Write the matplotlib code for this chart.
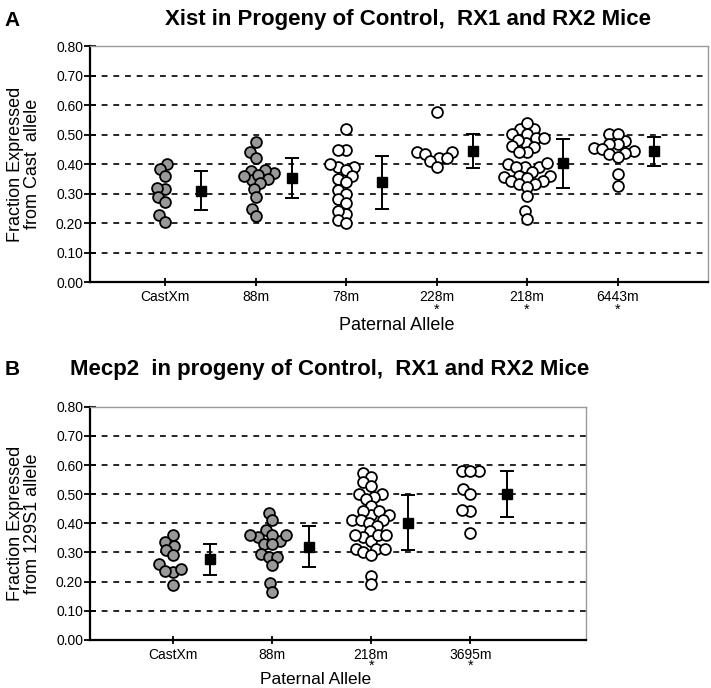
import matplotlib
matplotlib.use('Agg')
import matplotlib.pyplot as plt
import numpy as np

plt.rcParams['font.family'] = ['Liberation Sans', 'DejaVu Sans']

# ---- panel A : Xist ----
a_groups = ['CastXm', '88m', '78m', '228m', '218m', '6443m']
a_star = [False, False, False, True, True, True]
a_filled = [True, True, False, False, False, False]
a_values = [
    [0.400, 0.383, 0.359, 0.315, 0.320, 0.289, 0.272, 0.226, 0.205],
    [0.476, 0.442, 0.419, 0.378, 0.368, 0.380, 0.349, 0.345, 0.363, 0.359,
     0.334, 0.317, 0.289, 0.249, 0.223],
    [0.519, 0.448, 0.448, 0.390, 0.390, 0.400, 0.380, 0.360, 0.350, 0.340,
     0.311, 0.298, 0.281, 0.269, 0.230, 0.241, 0.211, 0.200],
    [0.578, 0.419, 0.442, 0.442, 0.434, 0.419, 0.410, 0.391],
    [0.518, 0.518, 0.540, 0.502, 0.502, 0.472, 0.487, 0.487, 0.482, 0.459,
     0.461, 0.442, 0.442, 0.391, 0.389, 0.400, 0.391, 0.402, 0.374, 0.360,
     0.359, 0.351, 0.357, 0.343, 0.342, 0.331, 0.331, 0.321, 0.291, 0.240,
     0.212],
    [0.479, 0.502, 0.502, 0.468, 0.468, 0.453, 0.450, 0.443, 0.436, 0.434,
     0.425, 0.366, 0.326],
]
a_mean = [0.309, 0.353, 0.338, 0.443, 0.402, 0.443]
a_sd = [0.066, 0.068, 0.090, 0.058, 0.083, 0.049]

# ---- panel B : Mecp2 ----
b_groups = ['CastXm', '88m', '218m', '3695m']
b_star = [False, False, True, True]
b_filled = [True, True, False, False]
b_values = [
    [0.359, 0.336, 0.322, 0.307, 0.290, 0.259, 0.234, 0.244, 0.238, 0.190],
    [0.437, 0.410, 0.378, 0.353, 0.341, 0.359, 0.359, 0.359, 0.330, 0.328,
     0.295, 0.284, 0.284, 0.257, 0.194, 0.166],
    [0.571, 0.560, 0.540, 0.529, 0.499, 0.499, 0.491, 0.482, 0.460, 0.430,
     0.441, 0.441, 0.430, 0.410, 0.410, 0.410, 0.402, 0.391, 0.372, 0.353,
     0.361, 0.341, 0.359, 0.361, 0.313, 0.313, 0.313, 0.301, 0.290, 0.221,
     0.191],
    [0.580, 0.580, 0.580, 0.518, 0.500, 0.443, 0.447, 0.368],
]
b_mean = [0.277, 0.320, 0.402, 0.501]
b_sd = [0.053, 0.071, 0.095, 0.079]

yticks = np.arange(0, 0.81, 0.1)


def swarm(vals, d, sx, sy):
    # simple beeswarm in pixel units, returns x offsets in data units
    vals = np.asarray(vals)
    order = np.argsort(vals)
    placed = []
    xs = np.zeros(len(vals))
    for k in order:
        y = vals[k] * sy
        near = [(px, py) for px, py in placed if abs(py - y) < d]
        cands = [0.0]
        for px, py in near:
            dx = np.sqrt(d * d - (py - y) ** 2)
            cands += [px + dx, px - dx]
        cands.sort(key=lambda c: (abs(c), c))
        for c in cands:
            if all((c - px) ** 2 + (y - py) ** 2 >= d * d - 1e-6 for px, py in near):
                xs[k] = c
                placed.append((c, y))
                break
    return xs / sx


def panel(ax, groups, values, means, sds, filled, stars, xlim, ylabel, dx_mean, star_off):
    ax.set_xlim(*xlim)
    ax.set_ylim(0, 0.8)
    fig.canvas.draw()
    bb = ax.get_window_extent()
    sx = bb.width / (xlim[1] - xlim[0])
    sy = bb.height / 0.8
    for y in yticks[1:-1]:
        ax.axhline(y, color='black', lw=1.2, ls=(0, (3.5, 3.5)), zorder=1)
    for i, vals in enumerate(values):
        off = swarm(vals, 8.5, sx, sy)
        ax.plot(i + off, vals, 'o', ms=7.8, mec='black', mew=1.3,
                mfc='#999999' if filled[i] else 'white', zorder=3, clip_on=False)
        ax.errorbar(i + dx_mean, means[i], yerr=sds[i], fmt='s', ms=6.5,
                    color='black', ecolor='black', elinewidth=1.4,
                    capsize=5, capthick=1.4, zorder=4)
        if stars[i]:
            ax.annotate('*', xy=(i, 0), xycoords=('data', 'axes fraction'),
                        xytext=(0, star_off), textcoords='offset pixels',
                        ha='center', va='top', fontsize=10.5)
    ax.set_xticks(range(len(groups)))
    ax.set_xticklabels(groups, fontsize=10)
    ax.set_yticks(yticks)
    ax.set_yticklabels(['%.2f' % v for v in yticks], fontsize=10)
    ax.tick_params(axis='y', direction='inout', length=8, width=1.3, pad=1)
    ax.tick_params(axis='x', direction='inout', length=6, width=1.3, pad=3)
    for s in ['left', 'bottom']:
        ax.spines[s].set_linewidth(1.6)
    for s in ['top', 'right']:
        ax.spines[s].set_color('#999999')
        ax.spines[s].set_linewidth(1.0)
    ax.set_ylabel(ylabel, fontsize=13, linespacing=1.0)
    ax.yaxis.set_label_coords(-(90 - 41) / bb.width, 0.5)


fig = plt.figure(figsize=(7.11, 6.88), dpi=100)
ax1 = fig.add_axes([0.1266, 0.5901, 0.8692, 0.3430])
ax2 = fig.add_axes([0.1266, 0.0698, 0.6976, 0.3391])

panel(ax1, a_groups, a_values, a_mean, a_sd, a_filled, a_star,
      (-0.83, 6.0), 'Fraction Expressed\nfrom Cast  allele', 0.40, -21)
panel(ax2, b_groups, b_values, b_mean, b_sd, b_filled, b_star,
      (-0.84, 4.17), 'Fraction Expressed\nfrom 129S1 allele', 0.37, -19)

fig.text(397 / 711, 1 - 326 / 688, 'Paternal Allele', ha='center', va='center', fontsize=13)
fig.text(316 / 711, 1 - 679 / 688, 'Paternal Allele', ha='center', va='center', fontsize=12.5)

bold = ['Liberation Sans Narrow', 'Liberation Sans', 'DejaVu Sans']
fig.text(12 / 711, 1 - 20 / 688, 'A', ha='center', va='center', fontsize=15,
         fontweight='bold', family=bold)
fig.text(408 / 711, 1 - 20 / 688, 'Xist in Progeny of Control,  RX1 and RX2 Mice',
         ha='center', va='center', fontsize=16, fontweight='bold', family=bold)
fig.text(12 / 711, 1 - 370 / 688, 'B', ha='center', va='center', fontsize=15,
         fontweight='bold', family=bold)
fig.text(330 / 711, 1 - 370 / 688, 'Mecp2  in progeny of Control,  RX1 and RX2 Mice',
         ha='center', va='center', fontsize=16, fontweight='bold', family=bold)

fig.savefig('out.png', dpi=100)
